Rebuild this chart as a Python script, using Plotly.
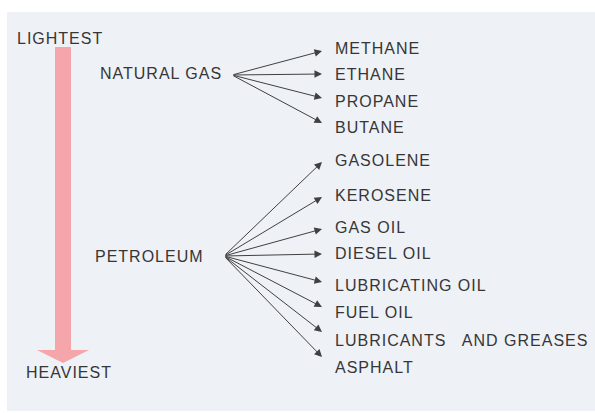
import plotly.graph_objects as go

# products of each source, top to bottom, with the row (px from top) of each label
gas_products = ["METHANE", "ETHANE", "PROPANE", "BUTANE"]
gas_label_y = [48, 74, 101, 127]
gas_tip_y = [51, 74, 98, 123]

oil_products = ["GASOLENE", "KEROSENE", "GAS OIL", "DIESEL OIL",
                "LUBRICATING OIL", "FUEL OIL", "LUBRICANTS\u00a0\u00a0 AND GREASES", "ASPHALT"]
oil_label_y = [160, 195, 227, 253, 285, 312, 340, 367]
oil_tip_y = [162, 197, 229, 254, 282, 307, 332, 357]

sources = ["NATURAL GAS", "PETROLEUM"]
source_x = [100, 95]
source_y = [73, 256]
source_end = [(232, 75), (224, 256)]

scale_labels = ["LIGHTEST", "HEAVIEST"]
scale_label_x = [17, 26]
scale_label_y = [38, 372]

W, H = 595, 413
TEXT = "#363636"
LINE = "#404040"
PINK = "#f4a6ab"
FONT = dict(family="Liberation Sans, Arial", size=16, color=TEXT)


def spaced(s):
    return '<span style="letter-spacing:1px">' + s + '</span>'


fig = go.Figure()

# pink scale arrow (lightest -> heaviest)
shaft_l, shaft_r, top, base, tip = 55, 71, 47, 350, 363
head_l, head_r = 37, 89
fig.add_trace(
    go.Scatter(
        x=[shaft_l, shaft_r, shaft_r, head_r, (shaft_l + shaft_r) / 2, head_l, shaft_l, shaft_l],
        y=[top, top, base, base, tip, base, base, top],
        mode="lines",
        fill="toself",
        fillcolor=PINK,
        line=dict(color=PINK, width=0),
        hoverinfo="none",
    )
)

annotations = []

for lab, x, y in zip(scale_labels + sources, scale_label_x + source_x, scale_label_y + source_y):
    annotations.append(dict(text=spaced(lab), x=x - 2, y=y, xref="x", yref="y",
                            xanchor="left", yanchor="middle", showarrow=False, font=FONT))

label_x = 333
tip_x = 322

groups = [(gas_products, gas_label_y, gas_tip_y, source_end[0]),
          (oil_products, oil_label_y, oil_tip_y, source_end[1])]

for products, label_y, tips, (ox, oy) in groups:
    for name, ly, ty in zip(products, label_y, tips):
        annotations.append(dict(text=spaced(name), x=label_x, y=ly, xref="x", yref="y",
                                xanchor="left", yanchor="middle", showarrow=False, font=FONT))
        annotations.append(dict(text="", x=tip_x, y=ty, xref="x", yref="y",
                                ax=ox, ay=oy, axref="x", ayref="y",
                                showarrow=True, arrowhead=2, arrowsize=1.5, arrowwidth=1,
                                arrowcolor=LINE, standoff=0, startstandoff=0))

axis = dict(showline=False, zeroline=False, showgrid=False, showticklabels=False, visible=False)

fig.update_layout(
    width=W,
    height=H,
    margin=dict(l=0, r=0, t=0, b=0),
    paper_bgcolor="white",
    plot_bgcolor="white",
    showlegend=False,
    xaxis=dict(axis, range=[0, W]),
    yaxis=dict(axis, range=[H, 0]),
    annotations=annotations,
    shapes=[dict(type="rect", xref="x", yref="y", x0=7, x1=W, y0=12, y1=411,
                 fillcolor="#eef1f6", line=dict(width=0), layer="below")],
)

# the page body has a default 8px margin; drop it so the figure sits at the corner
fig.write_html("out.html", config={"displayModeBar": False},
               post_script="document.body.style.margin='0';")
